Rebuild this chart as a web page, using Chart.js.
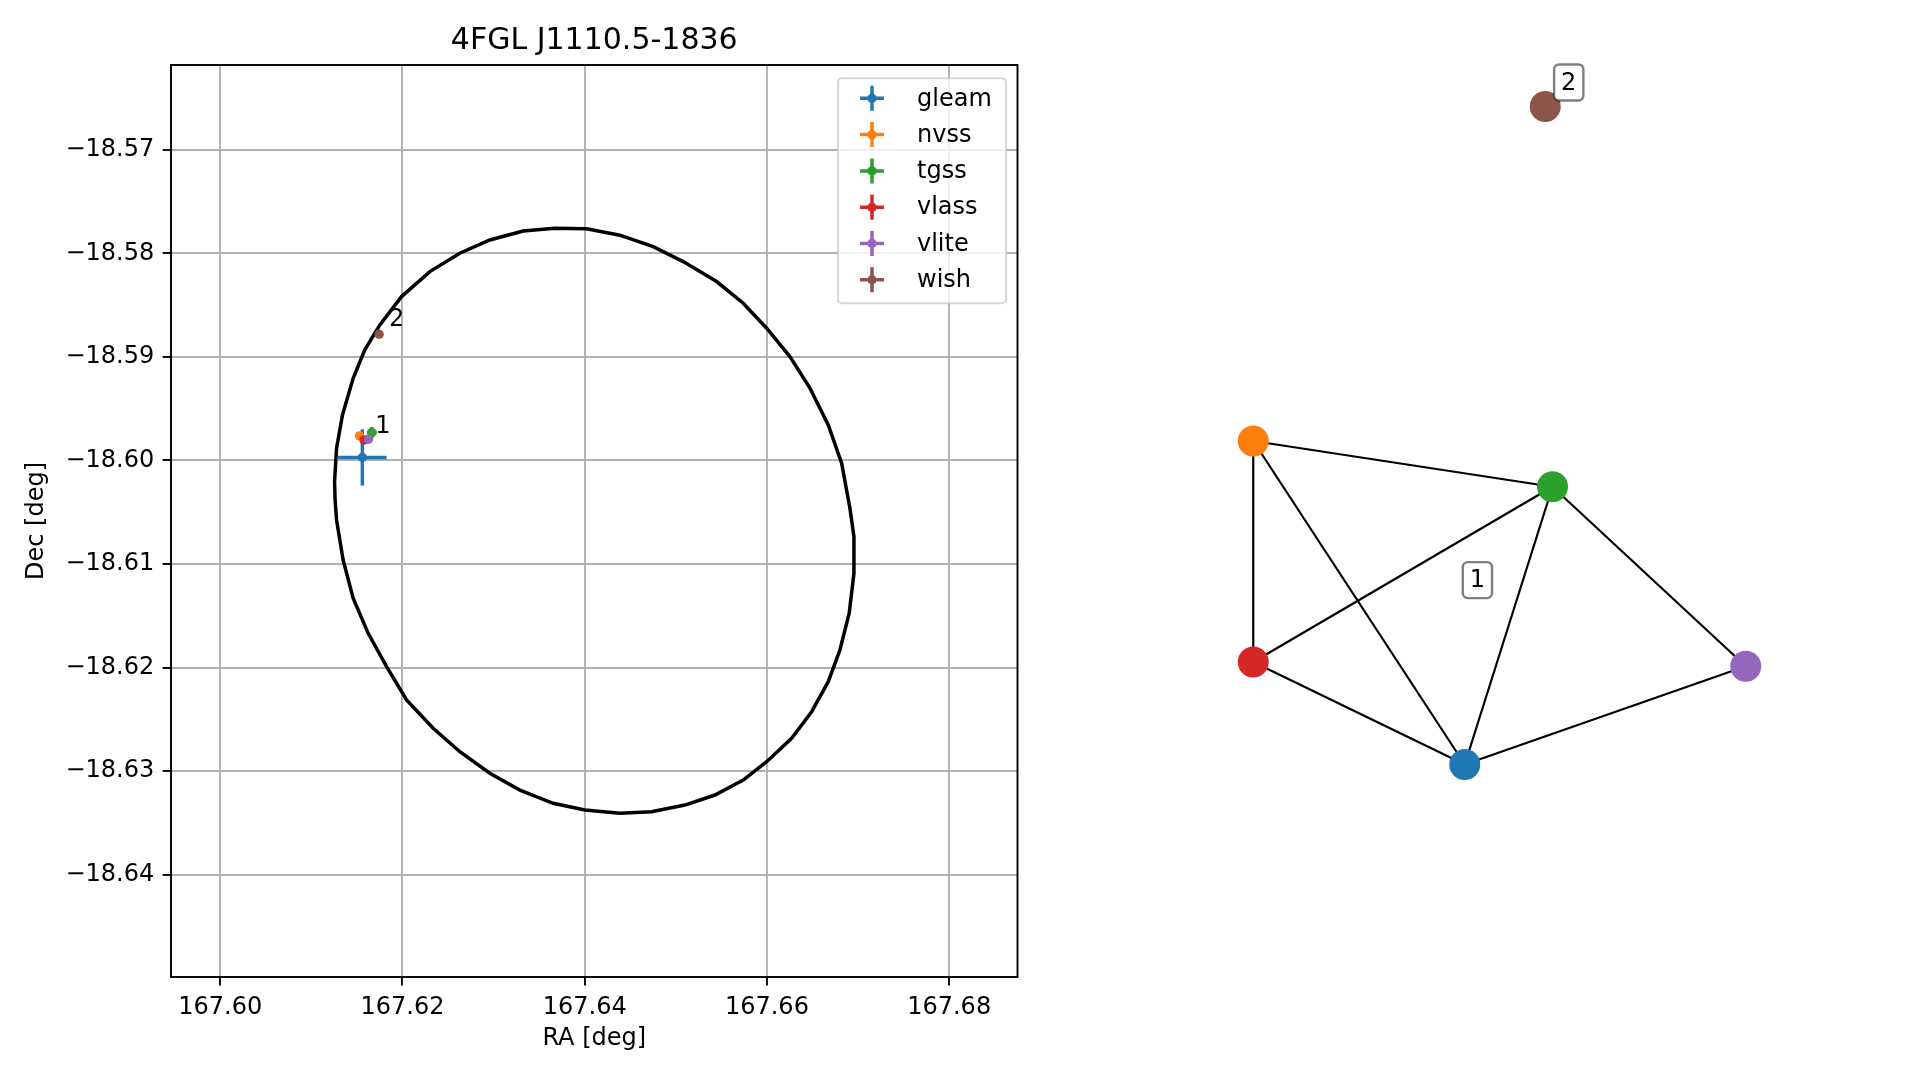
<!DOCTYPE html>
<html>
<head>
<meta charset="utf-8">
<script src="https://cdn.jsdelivr.net/npm/chart.js@4.4.1/dist/chart.umd.min.js"></script>
<style>
  html, body { margin: 0; padding: 0; background: #fff; }
  #wrap { position: relative; width: 1919px; height: 1080px; overflow: hidden; background: #fff; }
  #skyChart { position: absolute; left: 0; top: 0; }
  #graphChart { position: absolute; left: 1100px; top: 0; }
</style>
</head>
<body>
<div id="wrap">
  <canvas id="skyChart" width="1100" height="1080"></canvas>
  <canvas id="graphChart" width="819" height="1080"></canvas>
</div>
<script>
// catalogue positions (deg)
const surveys = ['gleam', 'nvss', 'tgss', 'vlass', 'vlite', 'wish'];
const colors = ['#1f77b4', '#ff7f0e', '#2ca02c', '#d62728', '#9467bd', '#8c564b'];
const raVals = [167.61560, 167.61529, 167.61664, 167.61578, 167.61628, 167.61744];
const decVals = [-18.59971, -18.59763, -18.59731, -18.59802, -18.59795, -18.58781];
const raErr = [0.00266, 0.0002, 0.00055, 0.0001, 0.0002, 0.0002];
const decErr = [0.00272, 0.0002, 0.00053, 0.0001, 0.0002, 0.0002];
const groupOf = [1, 1, 1, 1, 1, 2];
const groupNames = [1, 2];

// 4FGL error ellipse outline
const ellipseRa = [167.61261, 167.61255, 167.61277, 167.61342, 167.61459, 167.61587, 167.61752, 167.61990,
  167.62301, 167.62630, 167.62959, 167.63325, 167.63673, 167.64021, 167.64386, 167.64752, 167.65081,
  167.65448, 167.65740, 167.65997, 167.66252, 167.66472, 167.66673, 167.66820, 167.66911, 167.66955,
  167.66955, 167.66903, 167.66801, 167.66673, 167.66491, 167.66271, 167.65997, 167.65740, 167.65429,
  167.65100, 167.64734, 167.64386, 167.64002, 167.63654, 167.63289, 167.62959, 167.62630, 167.62337,
  167.62045, 167.61826, 167.61624, 167.61459, 167.61349, 167.61277];
const ellipseDec = [-18.60382, -18.60205, -18.59882, -18.59560, -18.59206, -18.58932, -18.58691, -18.58417,
  -18.58176, -18.57998, -18.57870, -18.57783, -18.57757, -18.57763, -18.57824, -18.57934, -18.58079,
  -18.58272, -18.58481, -18.58723, -18.58997, -18.59302, -18.59657, -18.60027, -18.60462, -18.60736,
  -18.61090, -18.61476, -18.61831, -18.62137, -18.62427, -18.62684, -18.62910, -18.63087, -18.63232,
  -18.63329, -18.63393, -18.63409, -18.63377, -18.63312, -18.63184, -18.63022, -18.62814, -18.62587,
  -18.62314, -18.61992, -18.61670, -18.61331, -18.60961, -18.60575];

const xTicks = [167.60, 167.62, 167.64, 167.66, 167.68];
const yTicks = [-18.57, -18.58, -18.59, -18.60, -18.61, -18.62, -18.63, -18.64];
const xRange = [167.5946, 167.6875];
const yRange = [-18.6499, -18.5618];
const plotTitle = '4FGL J1110.5-1836';

// crossmatch graph layout (arbitrary units)
const nodeX = [-0.141, -0.987, 0.210, -0.987, 0.983, 0.181];
const nodeY = [-0.818, 0.476, 0.293, -0.408, -0.425, 1.814];
const edges = [['nvss', 'tgss'], ['nvss', 'vlass'], ['nvss', 'gleam'], ['tgss', 'vlass'],
  ['tgss', 'gleam'], ['tgss', 'vlite'], ['vlass', 'gleam'], ['gleam', 'vlite']];

Chart.defaults.font.family = "'DejaVu Sans', sans-serif";
Chart.defaults.color = '#000';
Chart.defaults.animation = false;

const FS = 24;

const errorBars = {
    id: 'errorBars',
    beforeDatasetDraw(chart, args) {
        const ds = chart.data.datasets[args.index];
        if (!ds.errX) return;
        const xs = chart.scales.x, ys = chart.scales.y, ctx = chart.ctx;
        ctx.save();
        ctx.strokeStyle = ds.backgroundColor;
        ctx.lineWidth = 3.5;
        ds.data.forEach((p, i) => {
            const cx = xs.getPixelForValue(p.x), cy = ys.getPixelForValue(p.y);
            ctx.beginPath();
            ctx.moveTo(xs.getPixelForValue(p.x - ds.errX[i]), cy);
            ctx.lineTo(xs.getPixelForValue(p.x + ds.errX[i]), cy);
            ctx.moveTo(cx, ys.getPixelForValue(p.y - ds.errY[i]));
            ctx.lineTo(cx, ys.getPixelForValue(p.y + ds.errY[i]));
            ctx.stroke();
        });
        ctx.restore();
    }
};

const skyExtras = {
    id: 'skyExtras',
    afterDatasetsDraw(chart) {
        const ctx = chart.ctx, a = chart.chartArea;
        const xs = chart.scales.x, ys = chart.scales.y;
        ctx.save();
        // spines
        ctx.strokeStyle = '#000';
        ctx.lineWidth = 1.9;
        ctx.strokeRect(a.left, a.top, a.right - a.left, a.bottom - a.top);

        // title over the axes
        ctx.fillStyle = '#000';
        ctx.font = "30px 'DejaVu Sans'";
        ctx.textAlign = 'center';
        ctx.textBaseline = 'alphabetic';
        ctx.fillText(plotTitle, (a.left + a.right) / 2, a.top - 16);

        // group numbers
        ctx.font = FS + "px 'DejaVu Sans'";
        ctx.textAlign = 'left';
        groupNames.forEach(g => {
            let sx = 0, sy = 0, n = 0;
            groupOf.forEach((gg, i) => {
                if (gg !== g) return;
                sx += xs.getPixelForValue(raVals[i]);
                sy += ys.getPixelForValue(decVals[i]);
                n++;
            });
            ctx.fillText(String(g), sx / n + 10, sy / n - 8);
        });

        // legend
        const w = 168, h = 225;
        const bx = a.right - 11.5 - w, by = a.top + 13.3;
        ctx.beginPath();
        ctx.roundRect(bx, by, w, h, 4);
        ctx.fillStyle = 'rgba(255,255,255,0.8)';
        ctx.fill();
        ctx.strokeStyle = 'rgba(204,204,204,0.8)';
        ctx.lineWidth = 2;
        ctx.stroke();
        surveys.forEach((s, i) => {
            const cy = by + 20 + i * 36.3, hx = bx + 34;
            ctx.strokeStyle = colors[i];
            ctx.lineWidth = 3.5;
            ctx.beginPath();
            ctx.moveTo(hx - 12, cy); ctx.lineTo(hx + 12, cy);
            ctx.moveTo(hx, cy - 12.5); ctx.lineTo(hx, cy + 12.5);
            ctx.stroke();
            ctx.fillStyle = colors[i];
            ctx.beginPath();
            ctx.arc(hx, cy, 4.7, 0, Math.PI * 2);
            ctx.fill();
            ctx.fillStyle = '#000';
            ctx.textBaseline = 'middle';
            ctx.fillText(s, bx + 79, cy + 1);
        });
        ctx.restore();
    }
};

const skyData = [];
skyData.push({
    label: 'ellipse',
    data: ellipseRa.concat([ellipseRa[0]]).map((v, i) => ({ x: v, y: ellipseDec.concat([ellipseDec[0]])[i] })),
    showLine: true,
    borderColor: '#000',
    borderWidth: 3.5,
    pointRadius: 0,
    tension: 0,
    order: 10
});
surveys.forEach((s, i) => {
    skyData.push({
        label: s,
        data: [{ x: raVals[i], y: decVals[i] }],
        errX: [raErr[i]],
        errY: [decErr[i]],
        backgroundColor: colors[i],
        borderWidth: 0,
        pointRadius: 4.7,
        order: 6 - i
    });
});

const tickGrid = { color: '#b0b0b0', lineWidth: 1.9, tickColor: '#000', tickLength: 8.4, tickWidth: 1.9 };

new Chart(document.getElementById('skyChart'), {
    type: 'scatter',
    data: { datasets: skyData },
    options: {
        responsive: false,
        devicePixelRatio: 1,
        layout: { autoPadding: false, padding: { left: 0, top: 65, right: 82.5, bottom: 0 } },
        plugins: {
            legend: { display: false },
            tooltip: { enabled: false }
        },
        scales: {
            x: {
                type: 'linear',
                min: xRange[0], max: xRange[1],
                afterFit: s => { s.height = 103; },
                afterBuildTicks: s => { s.ticks = xTicks.map(v => ({ value: v })); },
                ticks: { font: { size: FS }, padding: 8.4, maxRotation: 0, callback: v => v.toFixed(2) },
                grid: tickGrid,
                border: { display: false },
                title: { display: true, text: 'RA [deg]', font: { size: FS }, padding: { top: 0, bottom: 26.6 } }
            },
            y: {
                type: 'linear',
                min: yRange[0], max: yRange[1],
                afterFit: s => { s.width = 171; },
                afterBuildTicks: s => { s.ticks = yTicks.map(v => ({ value: v })); },
                ticks: { font: { size: FS }, padding: 8.4, callback: v => '\u2212' + Math.abs(v).toFixed(2) },
                grid: tickGrid,
                border: { display: false },
                title: { display: true, text: 'Dec [deg]', font: { size: FS }, padding: { top: 22, bottom: 0 } }
            }
        }
    },
    plugins: [errorBars, skyExtras]
});

// ---------------- crossmatch graph ----------------
const graphLabels = {
    id: 'graphLabels',
    afterDatasetsDraw(chart) {
        const ctx = chart.ctx, xs = chart.scales.x, ys = chart.scales.y;
        ctx.save();
        ctx.font = FS + "px 'DejaVu Sans'";
        ctx.textAlign = 'center';
        ctx.textBaseline = 'middle';
        groupNames.forEach(g => {
            let sx = 0, sy = 0, n = 0;
            groupOf.forEach((gg, i) => {
                if (gg !== g) return;
                sx += xs.getPixelForValue(nodeX[i]);
                sy += ys.getPixelForValue(nodeY[i]);
                n++;
            });
            const cx = sx / n + 23.5, cy = sy / n - 24;
            const tw = ctx.measureText(String(g)).width + 14;
            ctx.beginPath();
            ctx.roundRect(cx - tw / 2, cy - 18, tw, 36, 5);
            ctx.fillStyle = '#fff';
            ctx.fill();
            ctx.strokeStyle = 'rgba(0,0,0,0.5)';
            ctx.lineWidth = 2.4;
            ctx.stroke();
            ctx.fillStyle = '#000';
            ctx.fillText(String(g), cx, cy + 1);
        });
        ctx.restore();
    }
};

const graphData = edges.map(([a, b]) => {
    const i = surveys.indexOf(a), j = surveys.indexOf(b);
    return {
        data: [{ x: nodeX[i], y: nodeY[i] }, { x: nodeX[j], y: nodeY[j] }],
        showLine: true,
        borderColor: '#000',
        borderWidth: 2.2,
        pointRadius: 0,
        order: 2
    };
});
graphData.push({
    data: surveys.map((s, i) => ({ x: nodeX[i], y: nodeY[i] })),
    backgroundColor: colors,
    borderWidth: 0,
    pointRadius: 15.5,
    order: 1
});

new Chart(document.getElementById('graphChart'), {
    type: 'scatter',
    data: { datasets: graphData },
    options: {
        responsive: false,
        devicePixelRatio: 1,
        layout: { autoPadding: false, padding: 0 },
        plugins: { legend: { display: false }, tooltip: { enabled: false } },
        scales: {
            x: { type: 'linear', display: false, min: -1.6, max: 1.676 },
            y: { type: 'linear', display: false, min: -2.08, max: 2.24 }
        }
    },
    plugins: [graphLabels]
});
</script>
</body>
</html>
